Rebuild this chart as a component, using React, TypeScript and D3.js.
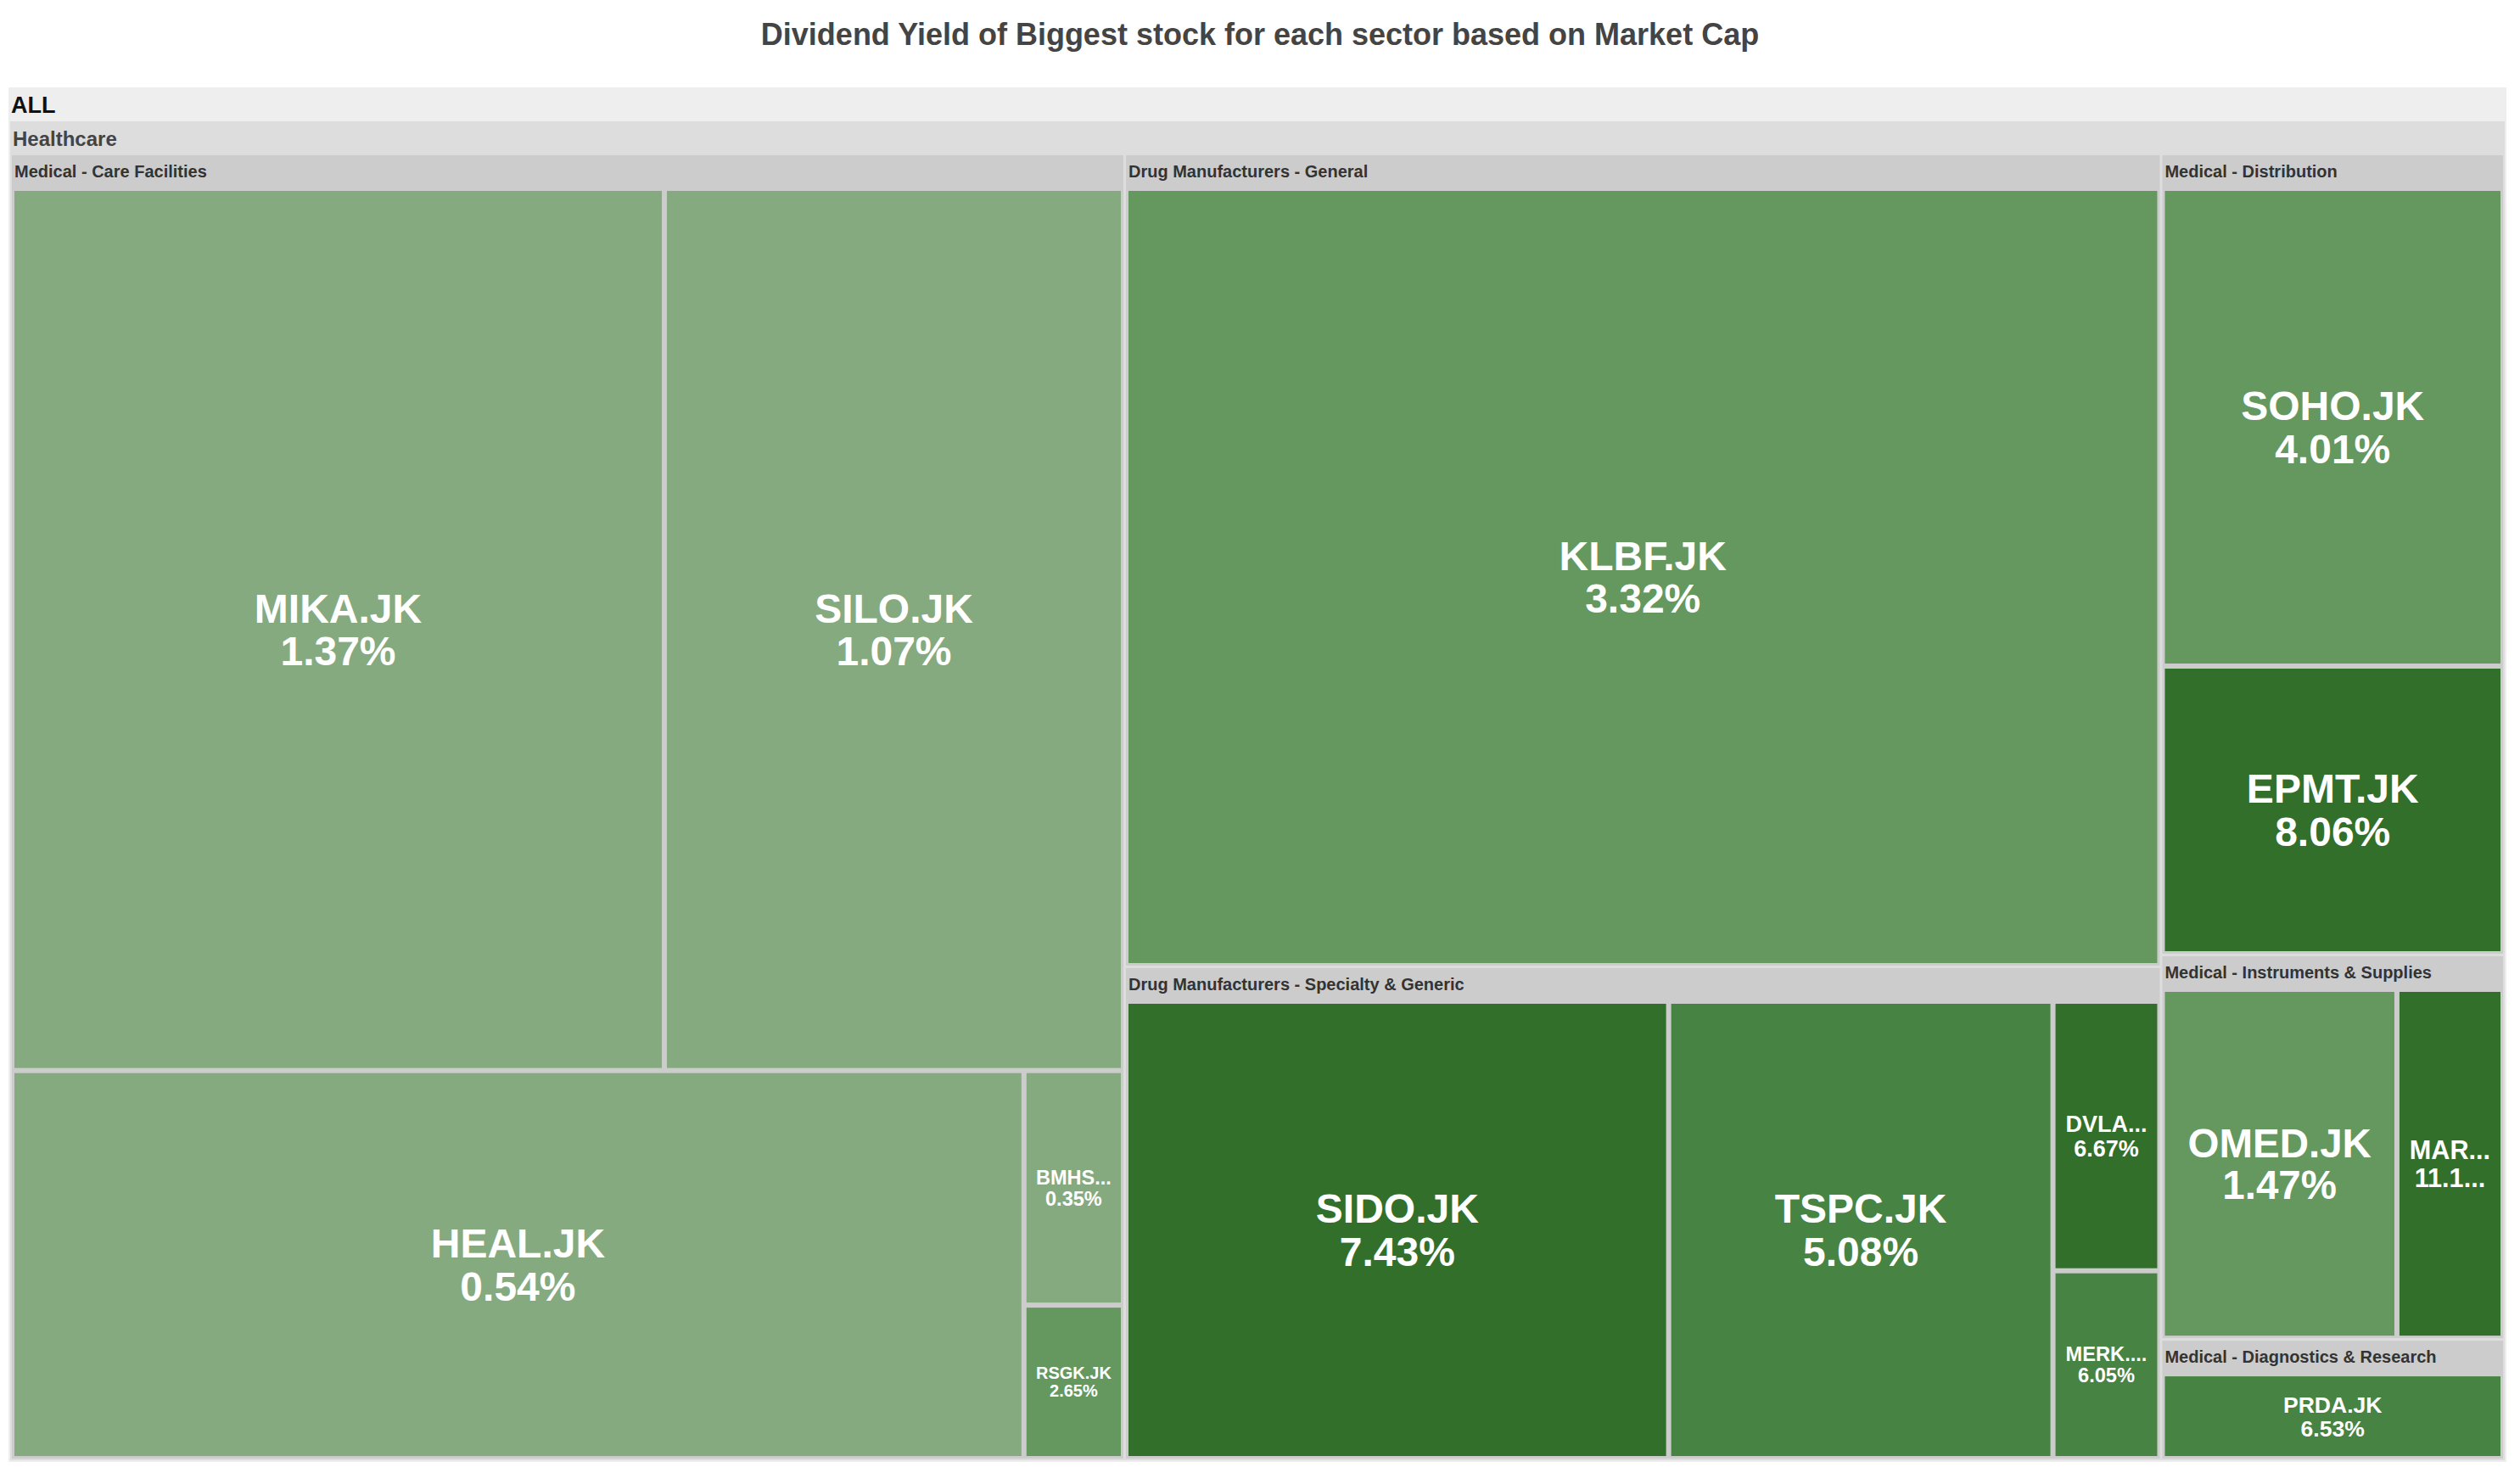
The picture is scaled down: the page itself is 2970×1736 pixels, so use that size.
import React, { useMemo } from 'react';
import * as d3 from 'd3';

// ---------------- data ----------------
const chartTitle = 'Dividend Yield of Biggest stock for each sector based on Market Cap';
const rootLabel = 'ALL';
const sectorLabel = 'Healthcare';
const industries = [
  'Medical - Care Facilities',
  'Drug Manufacturers - General',
  'Drug Manufacturers - Specialty & Generic',
  'Medical - Distribution',
  'Medical - Instruments & Supplies',
  'Medical - Diagnostics & Research',
];
const tickers = [
  'MIKA.JK', 'SILO.JK', 'HEAL.JK', 'BMHS.JK', 'RSGK.JK',
  'KLBF.JK',
  'SIDO.JK', 'TSPC.JK', 'DVLA.JK', 'MERK.JK',
  'SOHO.JK', 'EPMT.JK',
  'OMED.JK', 'MARK.JK',
  'PRDA.JK',
];
const tickerIndustry = [0, 0, 0, 0, 0, 1, 2, 2, 2, 2, 3, 3, 4, 4, 5];
// market cap (relative)
const marketCap = [52.81, 37.15, 36.03, 2.14, 1.40, 75.01, 23.88, 16.91, 2.77, 1.93, 15.28, 9.2, 8.09, 3.66, 3.68];
// dividend yield in %
const dividendYield = [1.37, 1.07, 0.54, 0.35, 2.65, 3.32, 7.43, 5.08, 6.67, 6.05, 4.01, 8.06, 1.47, 11.1, 6.53];

// ---------------- styling ----------------
const W = 2970;
const H = 1736;
const FONT = '"Liberation Sans", Arial, Helvetica, sans-serif';
const colorScale = d3
  .scaleThreshold<number, string>()
  .domain([1.4, 5, 6.6])
  .range(['#86aa7f', '#64985f', '#478343', '#326f2b']);
const headerFill = ['#eeeeee', '#dddddd', '#cccccc'];
const headerFont = [27, 24, 20];
const headerColor = ['#111111', '#444444', '#333333'];
const headerBase = [30, 29, 26];
const padTop = [40, 40, 42];
const padSide = [2, 2, 3];
const padBottom = [2, 2, 3];
const padInner = [0, 3, 6];

type Datum = { name: string; value?: number; yld?: number; children?: Datum[] };

let ctx: CanvasRenderingContext2D | null = null;
function em(s: string): number {
  if (!ctx) {
    ctx = document.createElement('canvas').getContext('2d');
    if (ctx) ctx.font = `bold 100px ${FONT}`;
  }
  if (!ctx) return s.length * 0.6;
  return ctx.measureText(s).width / 100;
}

const LINE = 1.05;
function fitText(label: string, valueText: string, w: number, h: number) {
  const availW = 0.8 * w;
  const hFont = (0.58 * h) / (1 + LINE);
  const minFont = Math.min(40, 0.134 * Math.sqrt(w * h));
  const fontFor = (s: string) => Math.min(48, availW / em(s), hFont);
  let lab = label;
  let f = fontFor(label);
  if (f < minFont) {
    for (let n = label.length - 1; n >= 1; n--) {
      const t = label.slice(0, n) + '...';
      lab = t;
      f = fontFor(t);
      if (f >= minFont) break;
    }
  }
  let val = valueText;
  if (em(val) * f > availW) {
    for (let n = valueText.length - 1; n >= 1; n--) {
      const t = valueText.slice(0, n) + '...';
      val = t;
      if (em(t) * f <= availW) break;
    }
  }
  return { lab, val, f };
}

export default function App() {
  const nodes = useMemo(() => {
    const data: Datum = {
      name: rootLabel,
      children: [
        {
          name: sectorLabel,
          children: industries.map((ind, i) => ({
            name: ind,
            children: tickers
              .map((t, j) => ({ name: t, value: marketCap[j], yld: dividendYield[j], ind: tickerIndustry[j] }))
              .filter((d) => d.ind === i)
              .map((d) => ({ name: d.name, value: d.value, yld: d.yld })),
          })),
        },
      ],
    };
    const root = d3
      .hierarchy<Datum>(data)
      .sum((d) => (d.children ? 0 : d.value || 0))
      .sort((a, b) => (b.value || 0) - (a.value || 0));
    d3
      .treemap<Datum>()
      .size([2944, 1620])
      .tile(d3.treemapSquarify)
      .paddingTop((n) => padTop[n.depth] ?? 0)
      .paddingLeft((n) => padSide[n.depth] ?? 0)
      .paddingRight((n) => padSide[n.depth] ?? 0)
      .paddingBottom((n) => padBottom[n.depth] ?? 0)
      .paddingInner((n) => padInner[n.depth] ?? 0)(root);
    return root.descendants() as d3.HierarchyRectangularNode<Datum>[];
  }, []);

  const ox = 10;
  const oy = 103;

  return (
    <div style={{ position: 'absolute', left: 0, top: 0, width: W, height: H, overflow: 'hidden', background: '#fff' }}>
      <svg width={W} height={H} style={{ display: 'block' }} fontFamily={FONT}>
        <rect x={0} y={0} width={W} height={H} fill="#ffffff" />
        <text x={W / 2} y={53} textAnchor="middle" fontSize={36} fontWeight="bold" fill="#444444">
          {chartTitle}
        </text>
        <g transform={`translate(${ox},${oy})`}>
          {nodes
            .filter((n) => n.children)
            .map((n, i) => (
              <g key={`h${i}`}>
                <rect x={n.x0} y={n.y0} width={n.x1 - n.x0} height={n.y1 - n.y0} fill={headerFill[n.depth]} />
                <text
                  x={n.x0 + 3}
                  y={n.y0 + headerBase[n.depth]}
                  fontSize={headerFont[n.depth]}
                  fontWeight="bold"
                  fill={headerColor[n.depth]}
                >
                  {n.data.name}
                </text>
              </g>
            ))}
          {nodes
            .filter((n) => !n.children)
            .map((n, i) => {
              const w = n.x1 - n.x0;
              const h = n.y1 - n.y0;
              const yv = n.data.yld || 0;
              const { lab, val, f } = fitText(n.data.name, `${yv.toFixed(2)}%`, w, h);
              const cx = (n.x0 + n.x1) / 2;
              const cy = (n.y0 + n.y1) / 2;
              const b1 = cy - (LINE * f) / 2 + 0.358 * f;
              const b2 = cy + (LINE * f) / 2 + 0.358 * f;
              return (
                <g key={`l${i}`}>
                  <rect x={n.x0} y={n.y0} width={w} height={h} fill={colorScale(yv)} />
                  <text x={cx} y={b1} textAnchor="middle" fontSize={f} fontWeight="bold" fill="#ffffff">
                    {lab}
                  </text>
                  <text x={cx} y={b2} textAnchor="middle" fontSize={f} fontWeight="bold" fill="#ffffff">
                    {val}
                  </text>
                </g>
              );
            })}
        </g>
      </svg>
    </div>
  );
}
